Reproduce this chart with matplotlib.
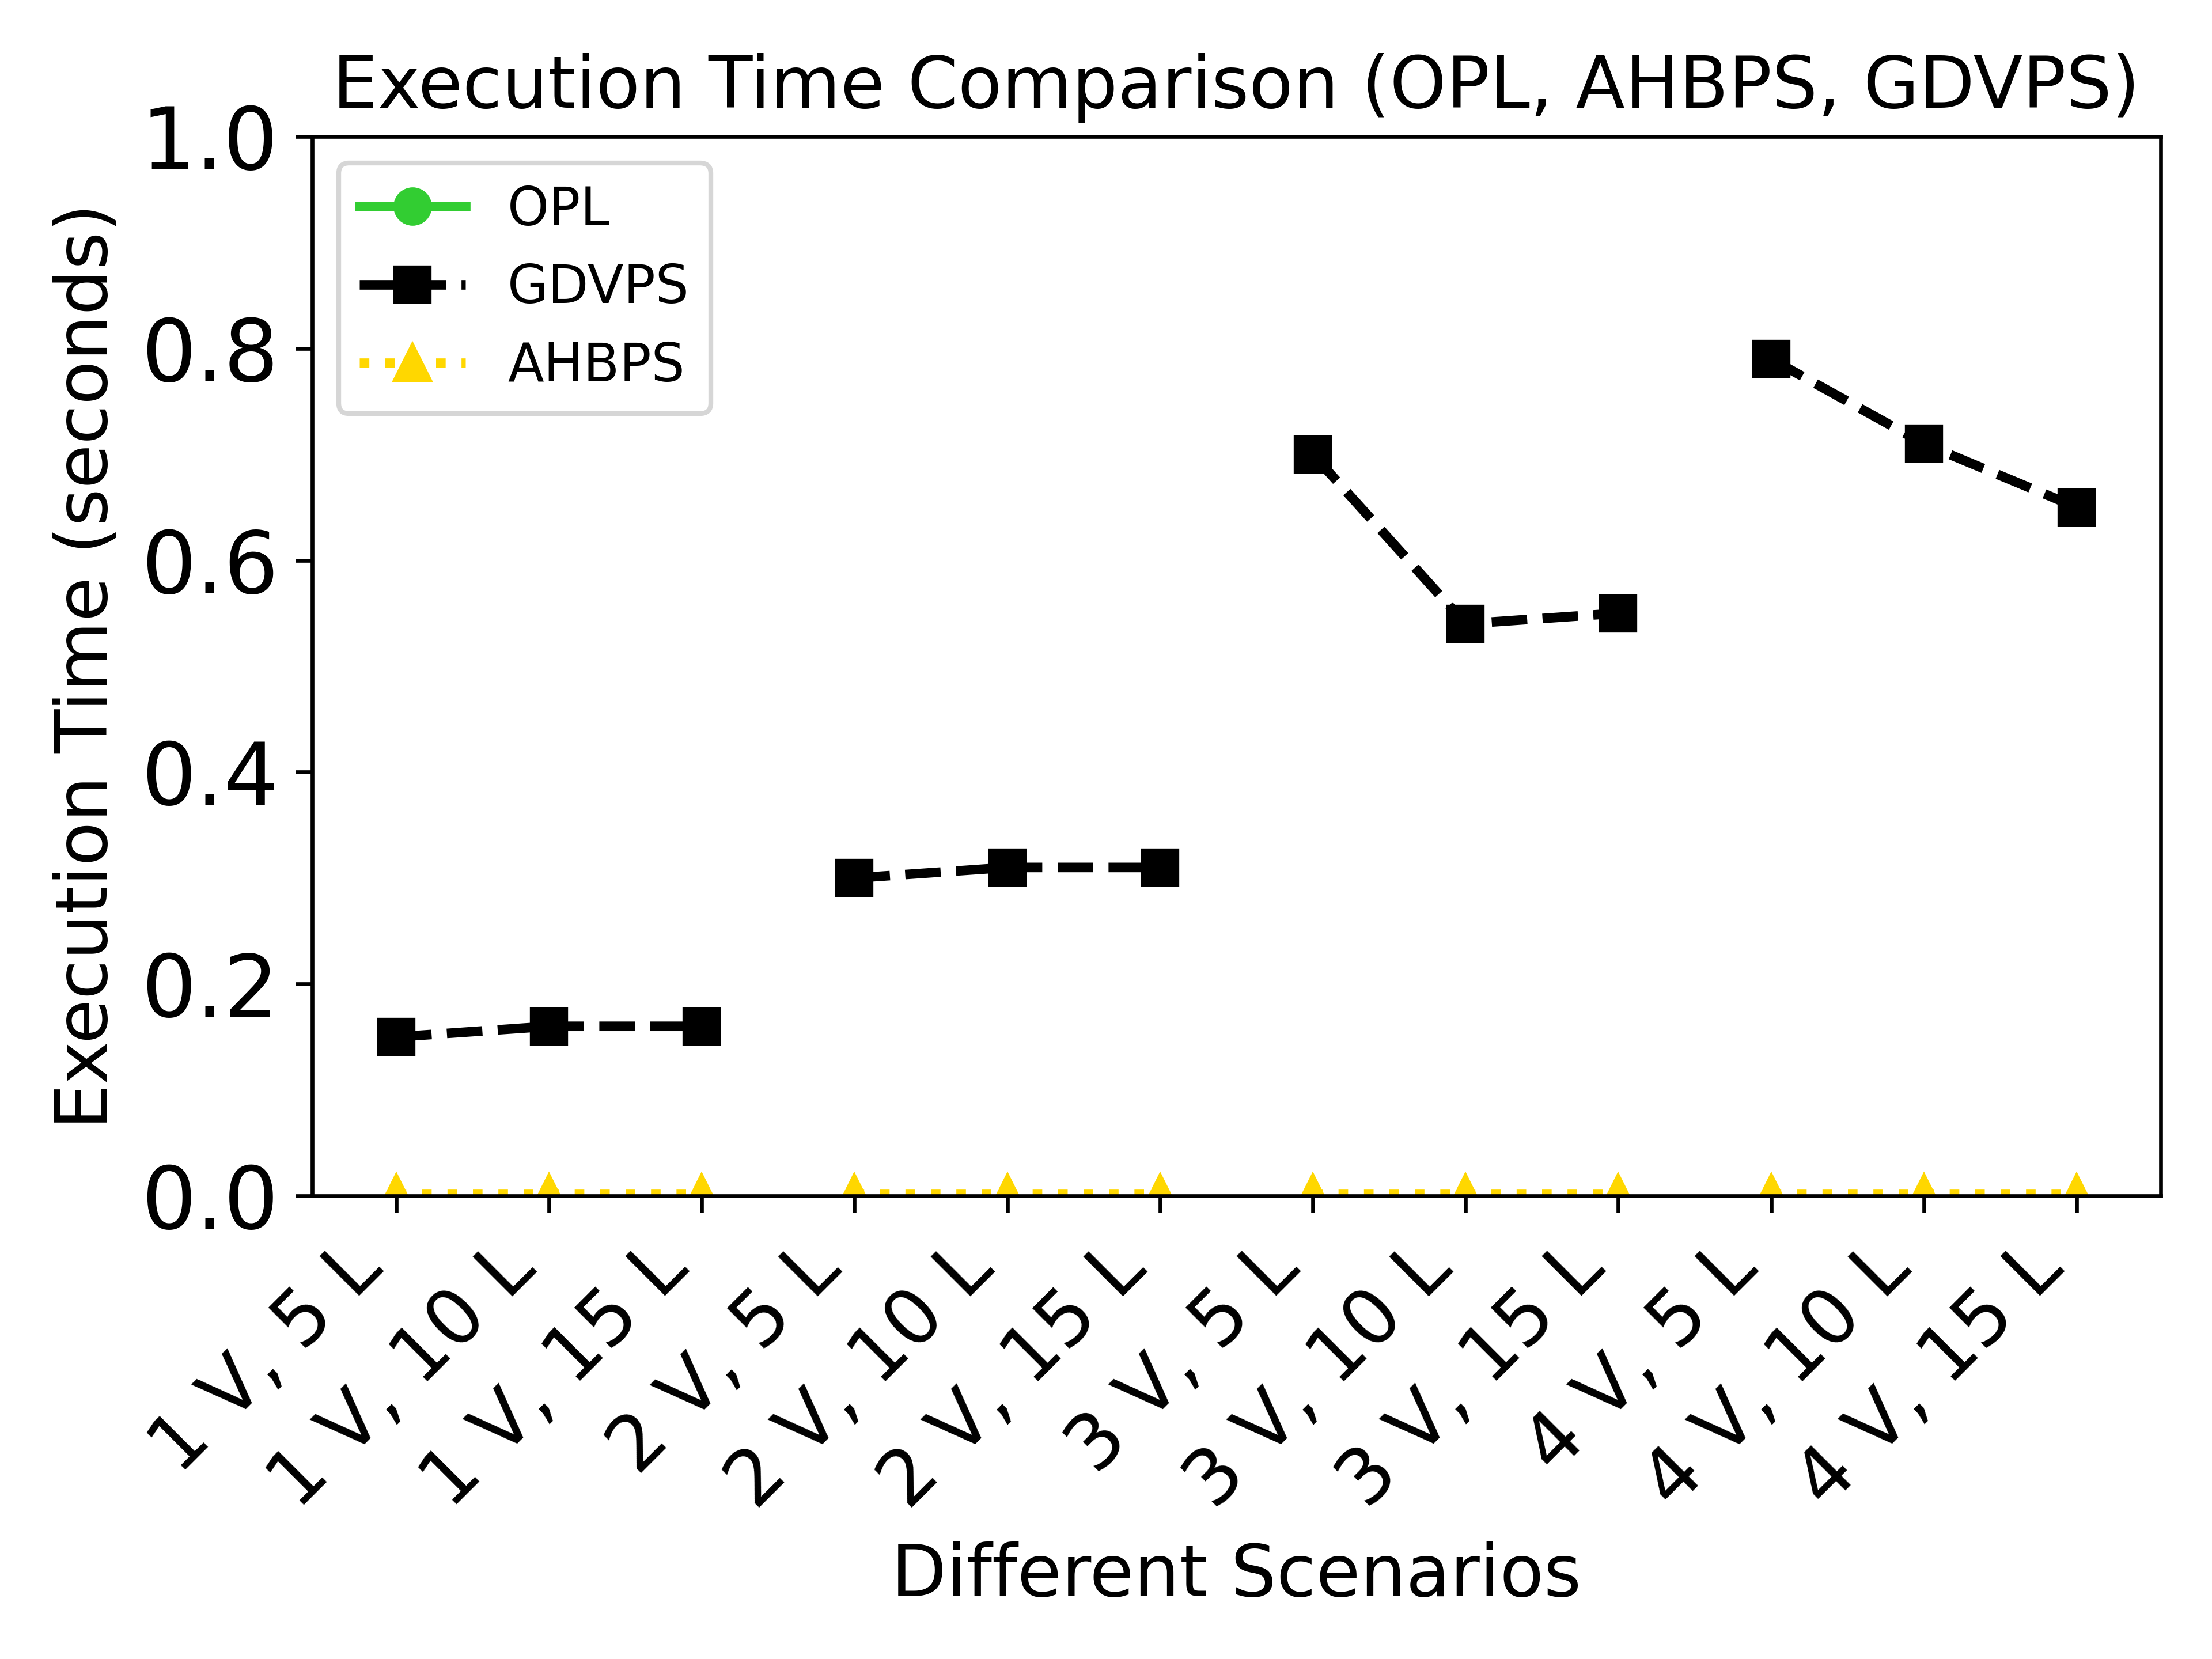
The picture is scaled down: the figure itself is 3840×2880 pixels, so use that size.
import numpy as np
import matplotlib
matplotlib.use("Agg")
import matplotlib.pyplot as plt

scenarios = ["1 V, 5 L", "1 V, 10 L", "1 V, 15 L",
             "2 V, 5 L", "2 V, 10 L", "2 V, 15 L",
             "3 V, 5 L", "3 V, 10 L", "3 V, 15 L",
             "4 V, 5 L", "4 V, 10 L", "4 V, 15 L"]
# OPL runs fall outside the visible 0-1 s range, nothing shows in the plot
opl_times = [np.nan] * 12
gdvps_times = [0.15, 0.16, 0.16, 0.30, 0.31, 0.31,
               0.70, 0.54, 0.55, 0.79, 0.71, 0.65]
ahbps_times = [0.002] * 12
group_size = 3

fig = plt.figure(figsize=(6.4, 4.8), dpi=600)
ax = fig.add_axes([0.1411, 0.2792, 0.8357, 0.6385])

x = np.arange(len(scenarios))
ax.plot(x, opl_times, color="limegreen", marker="o", linestyle="-",
        linewidth=2, markersize=7, label="OPL")

for g in range(0, len(scenarios), group_size):
    sl = slice(g, g + group_size)
    ax.plot(x[sl], gdvps_times[sl], color="black", marker="s", linestyle="--",
            linewidth=2, markersize=7, label="GDVPS" if g == 0 else None)

for g in range(0, len(scenarios), group_size):
    sl = slice(g, g + group_size)
    ax.plot(x[sl], ahbps_times[sl], color="gold", marker="^", linestyle=":",
            linewidth=2, markersize=7, label="AHBPS" if g == 0 else None)

ax.set_xlim(-0.55, 11.55)
ax.set_ylim(0, 1.0)
ax.set_xticks(x)
ax.set_xticklabels(scenarios, rotation=45, ha="right", fontsize=16)
ax.tick_params(axis="y", labelsize=18)
ax.set_xlabel("Different Scenarios", fontsize=15)
ax.set_ylabel("Execution Time (seconds)", fontsize=15)
ax.set_title("Execution Time Comparison (OPL, AHBPS, GDVPS)", fontsize=15)
ax.legend(loc="upper left", fontsize=11)

fig.savefig("out.png", dpi=600)
